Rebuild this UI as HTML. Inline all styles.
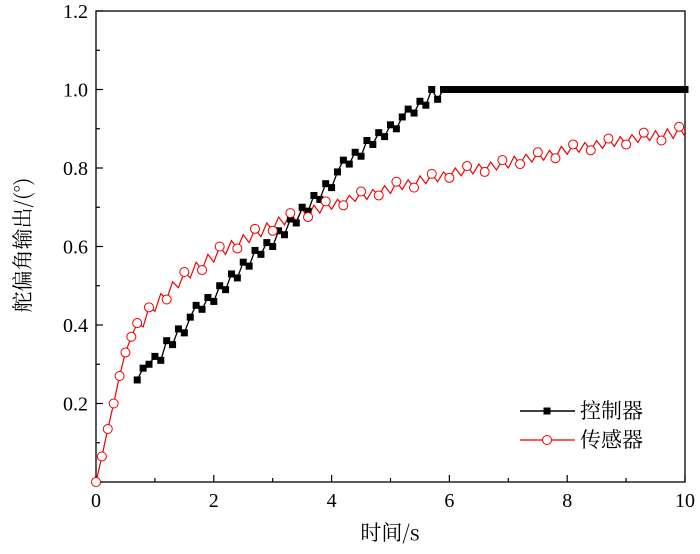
<!DOCTYPE html>
<html><head><meta charset="utf-8"><style>
body{margin:0;background:#fff}
svg text{font-family:"Liberation Serif","Noto Serif CJK SC",serif;font-size:20px}
</style></head><body>
<svg width="700" height="549" xmlns="http://www.w3.org/2000/svg">
<g id="axes"></g><g id="series"></g>
<g>
<line x1="520" y1="411" x2="575" y2="411" stroke="#000" stroke-width="1.5"/>
<rect x="543.5" y="407.5" width="7" height="7" fill="#000"/>
<text x="580" y="418" style="font-family:'Noto Serif CJK SC',serif;font-size:21px">控制器</text>
<line x1="520" y1="440" x2="575" y2="440" stroke="#e00" stroke-width="1.2"/>
<circle cx="547" cy="440" r="4.5" fill="#fff" stroke="#e00"/>
<text x="580" y="447" style="font-family:'Noto Serif CJK SC',serif;font-size:21px">传感器</text>
</g>
</svg>
<script>
const sensorT0 = 0;
const sensorVals = [0,.065,.135,.2,.27,.33,.37,.405,.395,.445,.435,.48,.465,.51,.495,.535,.52,.56,.54,.58,.56,.60,.58,.615,.595,.63,.61,.645,.625,.66,.64,.675,.655,.685,.665,.695,.675,.705,.685,.715,.695,.72,.705,.73,.715,.74,.72,.745,.73,.755,.735,.765,.745,.77,.75,.78,.76,.785,.765,.79,.775,.80,.78,.805,.785,.81,.79,.815,.795,.82,.80,.83,.81,.835,.815,.84,.82,.845,.825,.855,.835,.86,.84,.865,.845,.87,.85,.875,.855,.88,.86,.885,.865,.89,.87,.895,.87,.90,.875,.905,.88];
const ctrlT0 = 0.7;
const ctrlVals = [.26,.29,.30,.32,.31,.36,.35,.39,.38,.42,.45,.44,.47,.46,.50,.49,.53,.52,.56,.55,.59,.58,.61,.60,.64,.63,.67,.66,.70,.69,.73,.72,.76,.75,.79,.82,.81,.84,.83,.87,.86,.89,.88,.91,.90,.93,.95,.94,.97,.96,1.0,.975,1,1,1,1,1,1,1,1,1,1,1,1,1,1,1,1,1,1,1,1,1,1,1,1,1,1,1,1,1,1,1,1,1,1,1,1,1,1,1,1,1,1];
const dt = 0.1;
const xTicks = [0,2,4,6,8,10];
const yTicks = ["0.2","0.4","0.6","0.8","1.0","1.2"];
const X0=96,X1=685,Y0=482,Y1=11;
const sx=v=>X0+(X1-X0)*v/10, sy=v=>Y0-(Y0-Y1)*v/1.2;
const NS="http://www.w3.org/2000/svg";
function mk(p,tag,at){const e=document.createElementNS(NS,tag);for(const k in at)e.setAttribute(k,at[k]);p.appendChild(e);return e;}
const ax=document.getElementById('axes'), se=document.getElementById('series');
const frame=mk(ax,'rect',{x:X0,y:Y1,width:X1-X0,height:Y0-Y1,fill:'none',stroke:'#000','stroke-width':1.3});


for(let i=0;i<=10;i++){const x=sx(i);const t=mk(ax,'line',{x1:x,x2:x,y1:Y0,y2:Y0-(i%2?4:7),stroke:'#000','stroke-width':1.2});

}
xTicks.forEach(v=>{const t=mk(ax,'text',{x:sx(v),y:507,'text-anchor':'middle'});t.textContent=v;

});
for(let i=0;i<=12;i++){const y=sy(i/10);const t=mk(ax,'line',{x1:X0,x2:X0+(i%2?4:7),y1:y,y2:y,stroke:'#000','stroke-width':1.2});

}
yTicks.forEach(v=>{const t=mk(ax,'text',{x:88,y:sy(+v)+7,'text-anchor':'end'});t.textContent=v;

});
const xt=mk(ax,'text',{x:390,y:540,'text-anchor':'middle',style:"font-family:'Noto Serif CJK SC',serif;font-size:21px"});xt.textContent='时间/s';


const yt=mk(ax,'text',{x:0,y:0,'text-anchor':'middle',transform:'translate(30,245) rotate(-90)',style:"font-family:'Noto Serif CJK SC',serif;font-size:21px"});yt.textContent='舵偏角输出/(°)';


const sp=sensorVals.map((v,i)=>sx(sensorT0+i*dt)+','+sy(v)).join(' ');
const sl=mk(se,'polyline',{points:sp,fill:'none',stroke:'#e00','stroke-width':1.2});


const cp=ctrlVals.map((v,i)=>sx(ctrlT0+i*dt)+','+sy(v)).join(' ');
const cl=mk(se,'polyline',{points:cp,fill:'none',stroke:'#000','stroke-width':1.3});


ctrlVals.forEach((v,i)=>{const r=mk(se,'rect',{x:sx(ctrlT0+i*dt)-3.5,y:sy(v)-3.5,width:7,height:7,fill:'#000'});

});
sensorVals.forEach((v,i)=>{if(i>=8&&i%3)return;const c=mk(se,'circle',{cx:sx(sensorT0+i*dt),cy:sy(v),r:4.5,fill:'#fff',stroke:'#e00','stroke-width':1});

});
</script>
</body></html>
